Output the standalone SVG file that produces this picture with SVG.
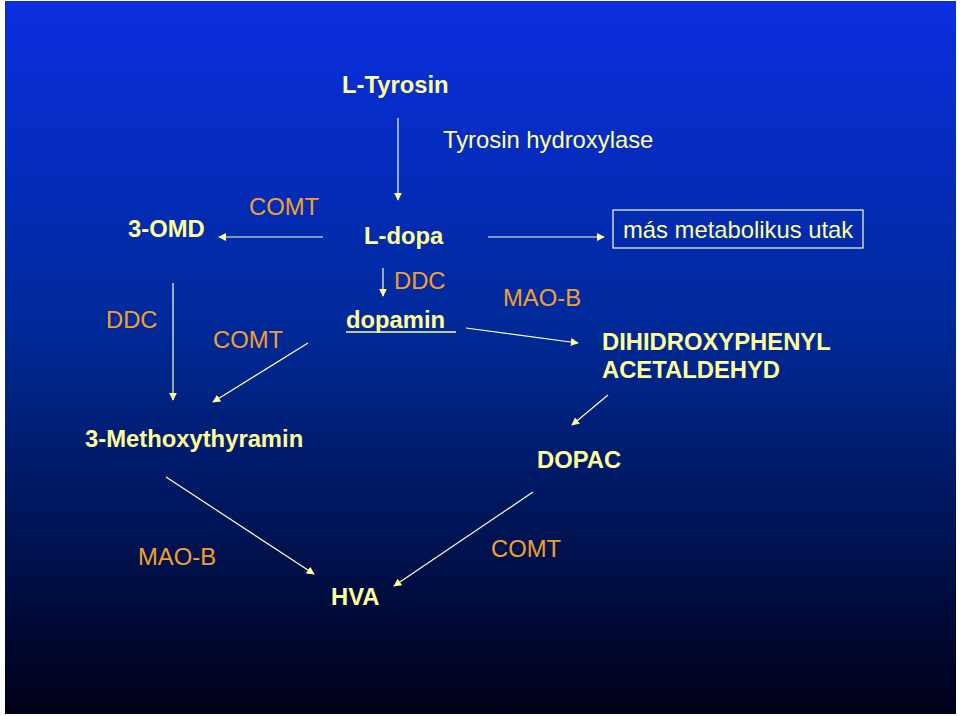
<svg xmlns="http://www.w3.org/2000/svg" width="960" height="716" viewBox="0 0 960 716">
<defs>
<linearGradient id="bg" x1="0" y1="0" x2="0" y2="1">
<stop offset="0" stop-color="#0a2ee0"/>
<stop offset="0.45" stop-color="#002a9a"/>
<stop offset="1" stop-color="#000018"/>
</linearGradient>
<marker id="ah" viewBox="0 0 10 10" refX="9" refY="5" markerWidth="8" markerHeight="8" markerUnits="userSpaceOnUse" orient="auto">
<path d="M0,0 L10,5 L0,10 z" fill="#ffff99"/>
</marker>
<style>
text{font-family:"Liberation Sans",Arial,sans-serif;font-size:23.8px}
.y{fill:#ffff99;font-weight:bold}
.o{fill:#f0a030}
.w{fill:#ffff99}
#conn line{stroke:#ffffcc;stroke-width:1.2;marker-end:url(#ah)}
</style>
</defs>
<rect width="960" height="716" fill="#ffffff"/>
<rect x="5" y="1" width="951" height="713" fill="url(#bg)"/>
<g id="conn">
<line x1="398" y1="118" x2="398" y2="200"/>
<line x1="323" y1="237" x2="219" y2="237"/>
<line x1="488" y1="237" x2="604" y2="237"/>
<line x1="383" y1="268" x2="383" y2="296"/>
<line x1="173" y1="283" x2="173" y2="400"/>
<line x1="308" y1="343" x2="213" y2="402"/>
<line x1="466" y1="328" x2="578" y2="343"/>
<line x1="608" y1="395" x2="572" y2="425"/>
<line x1="166" y1="477" x2="314" y2="574"/>
<line x1="533" y1="492" x2="394" y2="586"/>
</g>
<g id="n-tyrosin"><text class="y" x="342" y="93">L-Tyrosin</text></g>
<g id="l-th"><text class="w" x="443" y="148">Tyrosin hydroxylase</text></g>
<g id="n-3omd"><text class="y" x="128" y="237">3-OMD</text></g>
<g id="l-comt1"><text class="o" x="249" y="215">COMT</text></g>
<g id="n-ldopa"><text class="y" x="364" y="244">L-dopa</text></g>
<g id="n-mas"><rect x="613" y="210" width="250" height="38" fill="none" stroke="#ffffcc" stroke-width="1.2"/><text class="w" x="623" y="238">más metabolikus utak</text></g>
<g id="l-ddc1"><text class="o" x="394" y="289">DDC</text></g>
<g id="n-dopamin"><text class="y" x="346" y="328">dopamin</text><line x1="346" y1="332" x2="456" y2="332" stroke="#ffff99" stroke-width="1.5"/></g>
<g id="l-ddc2"><text class="o" x="106" y="328">DDC</text></g>
<g id="l-comt2"><text class="o" x="213" y="348">COMT</text></g>
<g id="l-maob1"><text class="o" x="503" y="306">MAO-B</text></g>
<g id="n-dihidro"><text class="y" x="602" y="350">DIHIDROXYPHENYL</text><text class="y" x="602" y="378">ACETALDEHYD</text></g>
<g id="n-3mt"><text class="y" x="85" y="447">3-Methoxythyramin</text></g>
<g id="n-dopac"><text class="y" x="537" y="468">DOPAC</text></g>
<g id="l-maob2"><text class="o" x="138" y="565">MAO-B</text></g>
<g id="l-comt3"><text class="o" x="491" y="557">COMT</text></g>
<g id="n-hva"><text class="y" x="331" y="605">HVA</text></g>
</svg>
